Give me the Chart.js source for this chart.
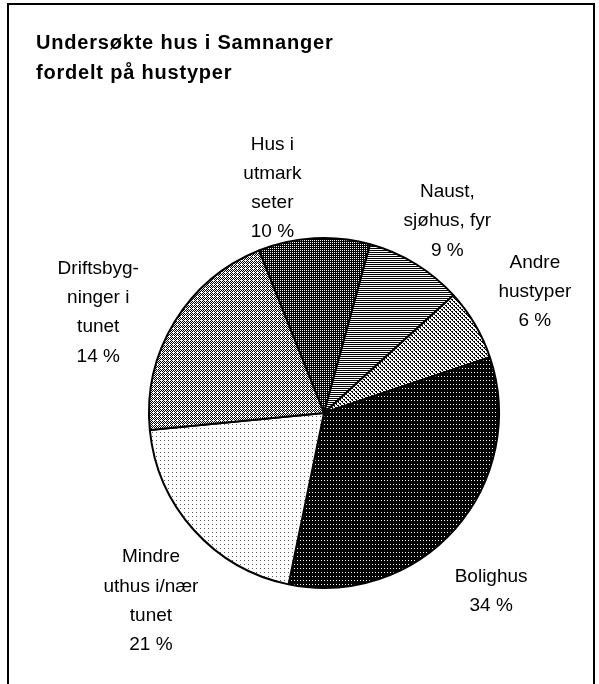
<!DOCTYPE html>
<html>
<head>
<meta charset="utf-8">
<script src="https://cdn.jsdelivr.net/npm/chart.js@4.4.1/dist/chart.umd.min.js"></script>
<style>
  html, body { margin: 0; padding: 0; background: #fff; }
  #wrap { position: relative; width: 599px; height: 684px; overflow: hidden; }
  #frame { position: absolute; left: 7px; top: 3px; width: 588px; height: 700px; border: 2px solid #000; box-sizing: border-box; }
  #c { position: absolute; left: 0; top: 0; }
</style>
</head>
<body>
<div id="wrap">
  <div id="frame"></div>
  <canvas id="c" width="599" height="684"></canvas>
</div>
<script>
// ---- data ----
const titleLines = ["Undersøkte hus i Samnanger", "fordelt på hustyper"];
const categories = ["Hus i utmark seter", "Naust, sjøhus, fyr", "Andre hustyper", "Bolighus", "Mindre uthus i/nær tunet", "Driftsbygninger i tunet"];
const labelLines = [
  ["Hus i", "utmark", "seter"],
  ["Naust,", "sjøhus, fyr"],
  ["Andre", "hustyper"],
  ["Bolighus"],
  ["Mindre", "uthus i/nær", "tunet"],
  ["Driftsbyg-", "ninger i", "tunet"]
];
const percentLabels = ["10 %", "9 %", "6 %", "34 %", "21 %", "14 %"];
// slice sizes as drawn in the picture
const sliceValues = [10.3, 9.0, 6.6, 33.4, 20.2, 20.5];

// ---- style ----
const labelOffsets = [[-0.295, -1.284], [0.705, -1.097], [1.205, -0.693], [0.955, 1.017], [-0.989, 1.074], [-1.29, -0.574]];

function makePattern(w, h, fn) {
  const cv = document.createElement('canvas');
  cv.width = w; cv.height = h;
  const cx = cv.getContext('2d');
  const img = cx.createImageData(w, h);
  for (let y = 0; y < h; y++) for (let x = 0; x < w; x++) {
    const v = fn(x, y);
    const i = (y * w + x) * 4;
    img.data[i] = img.data[i + 1] = img.data[i + 2] = v; img.data[i + 3] = 255;
  }
  cx.putImageData(img, 0, 0);
  return cx.createPattern(cv, 'repeat');
}
const B = 0, W = 255;
const patterns = [
  // utmark: dark dither
  makePattern(2, 2, (x, y) => (x === 0 && y === 0) ? W : B),
  // naust: horizontal lines
  makePattern(2, 2, (x, y) => y % 2 === 0 ? B : W),
  // andre: fine diagonal
  makePattern(4, 4, (x, y) => { const d = (x - y + 8) % 4; return (d === 0 || (d === 1 && y % 2 === 1)) ? B : W; }),
  // bolighus: black with white dots
  makePattern(3, 4, (x, y) => (x === 0 && y === 0) ? W : B),
  // mindre: white with sparse dots
  makePattern(4, 4, (x, y) => (x === 0 && y === 0) ? 90 : W),
  // drifts: checker with white dots
  makePattern(4, 4, (x, y) => ((x + y) % 2 === 0 || (x === 1 && y === 0)) ? W : B)
];

const labelPlugin = {
  id: 'sliceLabels',
  afterDraw(chart) {
    const ctx = chart.ctx;
    ctx.save();
    // title
    ctx.fillStyle = '#000';
    ctx.font = 'bold 20px "Liberation Sans", Arial, sans-serif';
    if ('letterSpacing' in ctx) ctx.letterSpacing = '0.8px';
    ctx.textAlign = 'left';
    ctx.textBaseline = 'middle';
    titleLines.forEach((t, i) => ctx.fillText(t, 36, 43 + i * 30));
    if ('letterSpacing' in ctx) ctx.letterSpacing = '0px';
    // slice labels
    const meta = chart.getDatasetMeta(0);
    ctx.font = '19px "Liberation Sans", Arial, sans-serif';
    ctx.textAlign = 'center';
    const lh = 29.3;
    meta.data.forEach((arc, i) => {
      const p = arc.getProps(['x', 'y', 'outerRadius'], true);
      const cx = p.x + labelOffsets[i][0] * p.outerRadius;
      const cy = p.y + labelOffsets[i][1] * p.outerRadius;
      const lines = labelLines[i].concat([percentLabels[i]]);
      const top = cy - (lines.length - 1) * lh / 2;
      lines.forEach((l, j) => ctx.fillText(l, cx, top + j * lh));
    });
    ctx.restore();
  }
};

new Chart(document.getElementById('c'), {
  type: 'pie',
  data: {
    labels: categories,
    datasets: [{
      data: sliceValues,
      backgroundColor: patterns,
      borderColor: '#000',
      borderWidth: 2,
      hoverOffset: 0
    }]
  },
  options: {
    responsive: false,
    animation: false,
    rotation: -21.8,
    layout: { padding: { left: 148, right: 99, top: 237, bottom: 95 } },
    plugins: { legend: { display: false }, tooltip: { enabled: false }, title: { display: false } },
    events: []
  },
  plugins: [labelPlugin]
});
</script>
</body>
</html>
